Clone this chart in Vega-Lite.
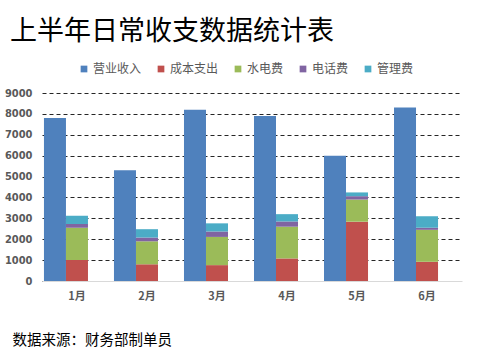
{
  "$schema": "https://vega.github.io/schema/vega-lite/v6.json",
  "width": 420,
  "height": 188,
  "autosize": "none",
  "padding": {"left": 42, "top": 93, "right": 16, "bottom": 78},
  "background": "white",
  "title": {
    "text": "上半年日常收支数据统计表",
    "anchor": "start",
    "frame": "group",
    "font": "Noto Sans CJK SC",
    "fontSize": 27,
    "fontWeight": "normal",
    "color": "#000000",
    "dx": -32,
    "offset": 17
  },
  "data": {
    "values": [
      {"month": "1月", "group": "收入", "category": "营业收入", "idx": 0, "value": 7800},
      {"month": "1月", "group": "支出", "category": "成本支出", "idx": 1, "value": 1000},
      {"month": "1月", "group": "支出", "category": "水电费", "idx": 2, "value": 1550},
      {"month": "1月", "group": "支出", "category": "电话费", "idx": 3, "value": 180},
      {"month": "1月", "group": "支出", "category": "管理费", "idx": 4, "value": 390},
      {"month": "2月", "group": "收入", "category": "营业收入", "idx": 0, "value": 5300},
      {"month": "2月", "group": "支出", "category": "成本支出", "idx": 1, "value": 800},
      {"month": "2月", "group": "支出", "category": "水电费", "idx": 2, "value": 1100},
      {"month": "2月", "group": "支出", "category": "电话费", "idx": 3, "value": 180},
      {"month": "2月", "group": "支出", "category": "管理费", "idx": 4, "value": 400},
      {"month": "3月", "group": "收入", "category": "营业收入", "idx": 0, "value": 8200},
      {"month": "3月", "group": "支出", "category": "成本支出", "idx": 1, "value": 760},
      {"month": "3月", "group": "支出", "category": "水电费", "idx": 2, "value": 1350},
      {"month": "3月", "group": "支出", "category": "电话费", "idx": 3, "value": 260},
      {"month": "3月", "group": "支出", "category": "管理费", "idx": 4, "value": 390},
      {"month": "4月", "group": "收入", "category": "营业收入", "idx": 0, "value": 7900},
      {"month": "4月", "group": "支出", "category": "成本支出", "idx": 1, "value": 1080},
      {"month": "4月", "group": "支出", "category": "水电费", "idx": 2, "value": 1520},
      {"month": "4月", "group": "支出", "category": "电话费", "idx": 3, "value": 250},
      {"month": "4月", "group": "支出", "category": "管理费", "idx": 4, "value": 350},
      {"month": "5月", "group": "收入", "category": "营业收入", "idx": 0, "value": 6000},
      {"month": "5月", "group": "支出", "category": "成本支出", "idx": 1, "value": 2840},
      {"month": "5月", "group": "支出", "category": "水电费", "idx": 2, "value": 1060},
      {"month": "5月", "group": "支出", "category": "电话费", "idx": 3, "value": 160},
      {"month": "5月", "group": "支出", "category": "管理费", "idx": 4, "value": 180},
      {"month": "6月", "group": "收入", "category": "营业收入", "idx": 0, "value": 8300},
      {"month": "6月", "group": "支出", "category": "成本支出", "idx": 1, "value": 920},
      {"month": "6月", "group": "支出", "category": "水电费", "idx": 2, "value": 1530},
      {"month": "6月", "group": "支出", "category": "电话费", "idx": 3, "value": 100},
      {"month": "6月", "group": "支出", "category": "管理费", "idx": 4, "value": 550}
    ]
  },
  "mark": {"type": "bar"},
  "encoding": {
    "x": {
      "field": "month",
      "type": "nominal",
      "sort": ["1月", "2月", "3月", "4月", "5月", "6月"],
      "scale": {"paddingInner": 0.057, "paddingOuter": 0.028},
      "axis": {
        "labelAngle": 0,
        "labelFont": "Noto Sans CJK SC",
        "labelFontWeight": "bold",
        "labelFontSize": 11,
        "labelColor": "#595959",
        "labelPadding": 9,
        "ticks": false,
        "domainColor": "#d9d9d9",
        "domainWidth": 1,
        "title": "数据来源：财务部制单员",
        "titleFont": "Noto Sans CJK SC",
        "titleFontSize": 14.5,
        "titleFontWeight": "normal",
        "titleColor": "#000000",
        "titleAnchor": "start",
        "titleAlign": "left",
        "titleBaseline": "middle",
        "titleX": -30,
        "titleY": 59
      }
    },
    "xOffset": {
      "field": "group",
      "type": "nominal",
      "scale": {"domain": ["收入", "支出", "空"], "paddingInner": 0, "paddingOuter": 0}
    },
    "y": {
      "field": "value",
      "type": "quantitative",
      "stack": "zero",
      "scale": {"domain": [0, 9000], "nice": false},
      "axis": {
        "values": [0, 1000, 2000, 3000, 4000, 5000, 6000, 7000, 8000, 9000],
        "format": "d",
        "title": null,
        "domain": false,
        "ticks": false,
        "labelFont": "DejaVu Sans Condensed, Liberation Sans Narrow, Arial",
        "labelFontWeight": "bold",
        "labelFontSize": 11,
        "labelColor": "#595959",
        "labelPadding": 10,
        "grid": true,
        "gridColor": "#262626",
        "gridDash": [4, 3],
        "gridWidth": 1
      }
    },
    "color": {
      "field": "category",
      "type": "nominal",
      "scale": {
        "domain": ["营业收入", "成本支出", "水电费", "电话费", "管理费"],
        "range": ["#4F81BD", "#C0504D", "#9BBB59", "#8064A2", "#4BACC6"]
      },
      "legend": {
        "orient": "none",
        "direction": "horizontal",
        "legendX": 36,
        "legendY": -30,
        "title": null,
        "symbolType": "square",
        "symbolSize": 45,
        "symbolStrokeWidth": 0,
        "labelFont": "Noto Sans CJK SC",
        "labelFontSize": 12,
        "labelColor": "#595959",
        "labelOffset": 3,
        "columnPadding": 13,
        "padding": 0
      }
    },
    "order": {"field": "idx", "type": "quantitative", "sort": "ascending"}
  },
  "config": {
    "view": {"stroke": null}
  }
}
